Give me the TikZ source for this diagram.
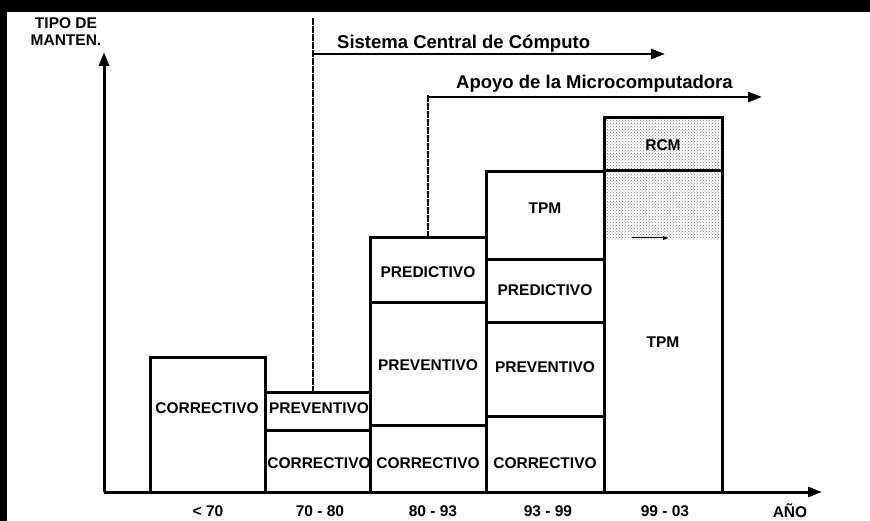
\documentclass[tikz,border=0pt]{standalone}
\usepackage{fontspec}
\setmainfont{Liberation Sans}
\usetikzlibrary{arrows.meta,patterns}

\begin{document}
\begin{tikzpicture}[x=1pt, y=-1pt, >={Triangle[length=14pt,width=10pt]},
	txt/.style={font=\bfseries\fontsize{15.5}{17}\selectfont, inner sep=0pt},
	big/.style={font=\bfseries\fontsize{18.5}{20}\selectfont, inner sep=0pt},
	caja/.style={line width=3pt},
	eje/.style={->, line width=3pt},
	guia/.style={line width=2.8pt, dash pattern=on 7pt off 1pt}]

\useasboundingbox (0,0) rectangle (870,521);
\fill[black] (0,0) rectangle (870,12);
\fill[black] (0,0) rectangle (7,521);

				% ejes
				\coordinate (origen) at (104,492);
				\coordinate (ytope) at (104,52);
				\coordinate (xfin) at (822,492);
				\draw[eje] (origen) -- (ytope);
				\draw[eje] (origen) -- (xfin);
				\node[txt, align=center] (tipo) at (66,32) {TIPO DE\\MANTEN.};
				\node[txt] (ano) at (790,511) {AÑO};

				% lineas de tiempo
				\coordinate (sisA) at (313,18);
				\coordinate (sisB) at (313,54);
				\coordinate (sisC) at (313,392);
				\coordinate (sisD) at (665,54);
				\draw[guia] (sisA) -- (sisC);
				\draw[->, line width=2.6pt] (sisB) -- (sisD);
				\node[big, anchor=base west] (sistema) at (337,49) {Sistema Central de Cómputo};
				\coordinate (apoA) at (428,95);
				\coordinate (apoB) at (428,97);
				\coordinate (apoC) at (428,238);
				\coordinate (apoD) at (762,97);
				\draw[guia] (apoA) -- (apoC);
				\draw[->, line width=2.6pt] (apoB) -- (apoD);
				\node[big, anchor=base west] (apoyo) at (456,89) {Apoyo de la Microcomputadora};

				% bloques
				\fill[pattern=crosshatch dots, pattern color=black!55] (604,118) rectangle (722,240);
				\draw[-{Triangle[length=5pt,width=4pt]}, line width=1pt] (632,238) -- (668,238);
				\draw[caja] (150,357) rectangle (265,492);
				\draw[caja] (265,392) rectangle (370,492);
				\draw[caja] (265,430) -- (370,430);
				\draw[caja] (370,238) rectangle (486,492);
				\draw[caja] (370,303) -- (486,303);
				\draw[caja] (370,425) -- (486,425);
				\draw[caja] (486,172) rectangle (604,492);
				\draw[caja] (486,260) -- (604,260);
				\draw[caja] (486,322) -- (604,322);
				\draw[caja] (486,416) -- (604,416);
				\draw[caja] (604,118) rectangle (722,492);
				\draw[caja] (604,171) -- (722,171);

				\node[txt] (corr1) at (207,408) {CORRECTIVO};
				\node[txt] (prev2) at (319,408) {PREVENTIVO};
				\node[txt] (corr2) at (319,463) {CORRECTIVO};
				\node[txt] (pred3) at (428,272) {PREDICTIVO};
				\node[txt] (prev3) at (428,365) {PREVENTIVO};
				\node[txt] (corr3) at (428,463) {CORRECTIVO};
				\node[txt] (tpm4) at (545,208) {TPM};
				\node[txt] (pred4) at (545,290) {PREDICTIVO};
				\node[txt] (prev4) at (545,367) {PREVENTIVO};
				\node[txt] (corr4) at (545,463) {CORRECTIVO};
				\node[txt] (rcm5) at (663,145) {RCM};
				\node[txt] (tpm5) at (663,342) {TPM};

				% periodos
				\node[txt] (p1) at (208,511) {< 70};
				\node[txt] (p2) at (320,511) {70 - 80};
				\node[txt] (p3) at (433,511) {80 - 93};
				\node[txt] (p4) at (548,511) {93 - 99};
				\node[txt] (p5) at (665,511) {99 - 03};

\end{tikzpicture}
\end{document}
